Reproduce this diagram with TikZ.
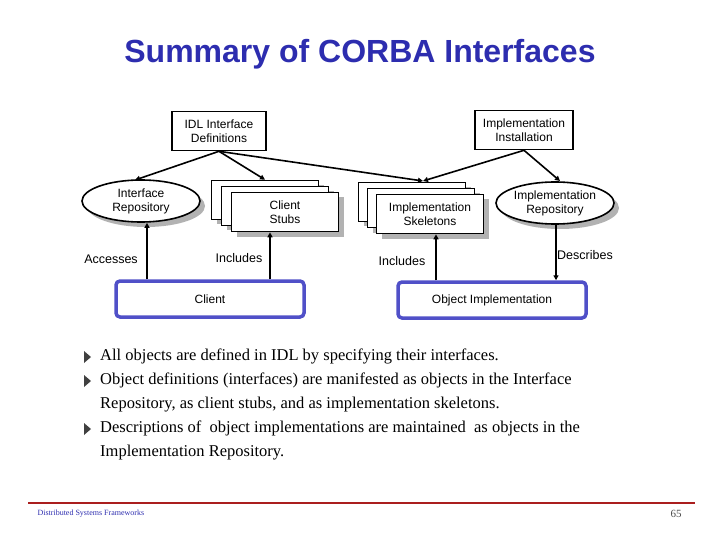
\documentclass[tikz,border=0pt]{standalone}
\usepackage{fontspec}
\setmainfont{Liberation Serif}
\setsansfont{Liberation Sans}
\usetikzlibrary{shapes.geometric,shadows,arrows.meta}
\definecolor{titleblue}{RGB}{45,45,175}
\definecolor{boxblue}{RGB}{80,80,200}
\definecolor{footred}{RGB}{170,30,30}
\begin{document}
\begin{tikzpicture}[x=1pt,y=-1pt,
  lab/.style={font=\sffamily\fontsize{12}{14}\selectfont,align=center},
  sbox/.style={draw,line width=1.6pt,fill=white,lab,inner sep=0pt},
  shad/.style={drop shadow={fill=gray!60,opacity=1,shadow xshift=5pt,shadow yshift=-5pt}},
  ell/.style={ellipse,sbox,shad,minimum width=118pt,minimum height=42pt},
  bluebox/.style={draw=boxblue,line width=3.5pt,rounded corners=4pt,fill=white,lab,minimum width=188pt,minimum height=36pt},
  arr/.style={line width=1.6pt,-{Triangle[length=5pt,width=5pt]}},
  edgelab/.style={font=\sffamily\fontsize{12.5}{14}\selectfont},
  btext/.style={font=\fontsize{16.5}{23.5}\selectfont,anchor=north west,align=left,inner sep=0pt}]
\useasboundingbox (0,0) rectangle (720,540);
\node[font=\sffamily\bfseries\fontsize{32}{36}\selectfont,text=titleblue] (title) at (360,54) {Summary of CORBA Interfaces};

\node[sbox,minimum width=94pt,minimum height=39pt] (idl) at (219,131) {IDL Interface\\Definitions};
\node[sbox,minimum width=98pt,minimum height=39pt] (inst) at (524,130) {Implementation\\Installation};
\node[ell] (ir) at (141,201) {Interface\\Repository};
\node[ell] (implrep) at (555,203) {Implementation\\Repository};

% client stubs stack
\node[sbox,shad,minimum width=107pt,minimum height=39pt] (cs3) at (265,200) {};
\node[sbox,shad,minimum width=107pt,minimum height=39pt] (cs2) at (275,206) {};
\node[sbox,shad,minimum width=107pt,minimum height=39pt] (cs) at (285,212) {Client\\Stubs};
% skeletons stack
\node[sbox,shad,minimum width=107pt,minimum height=39pt] (sk3) at (412,202) {};
\node[sbox,shad,minimum width=107pt,minimum height=39pt] (sk2) at (421,208) {};
\node[sbox,shad,minimum width=107pt,minimum height=39pt] (sk) at (430,214) {Implementation\\Skeletons};

\node[bluebox] (client) at (210,299) {Client};
\node[bluebox] (obj) at (492,300) {Object Implementation};

\draw[arr] (idl.south) -- (135,180);
\draw[arr] (idl.south) -- (cs3.north);
\draw[arr] (idl.south) -- (423,181);
\draw[arr] (inst.south) -- (423,181);
\draw[arr] (inst.south) -- (560,181);

\draw[arr] (client.north -| 147,0) -- (147,0 |- ir.south);
\draw[arr] (client.north -| 270,0) -- (270,0 |- cs.south);
\draw[arr] (obj.north -| 436,0) -- (436,0 |- sk.south);
\draw[arr] (556,0 |- implrep.south) -- (556,0 |- obj.north);

\node[edgelab] (l1) at (111,259) {Accesses};
\node[edgelab] (l2) at (239,258) {Includes};
\node[edgelab] (l3) at (402,261) {Includes};
\node[edgelab] (l4) at (585,255) {Describes};

\foreach \y in {351,375,423} \fill[black!75] (84,\y) -- (91,\y+6) -- (84,\y+12) -- cycle;
\node[btext] (b1) at (100,349) {All objects are defined in IDL by specifying their interfaces.};
\node[btext] (b2) at (100,373) {Object definitions (interfaces) are manifested as objects in the Interface\\Repository, as client stubs, and as implementation skeletons.};
\node[btext] (b3) at (100,421) {Descriptions of \ object implementations are maintained \ as objects in the\\Implementation Repository.};

\draw[footred,line width=1.5pt] (28,503) -- (695,503);
\node[font=\fontsize{8}{9}\selectfont,text=titleblue,anchor=west] (foot) at (34,514) {Distributed Systems Frameworks};
\node[font=\fontsize{11}{12}\selectfont,text=black!70] (pg) at (676,514) {65};
\end{tikzpicture}
\end{document}
